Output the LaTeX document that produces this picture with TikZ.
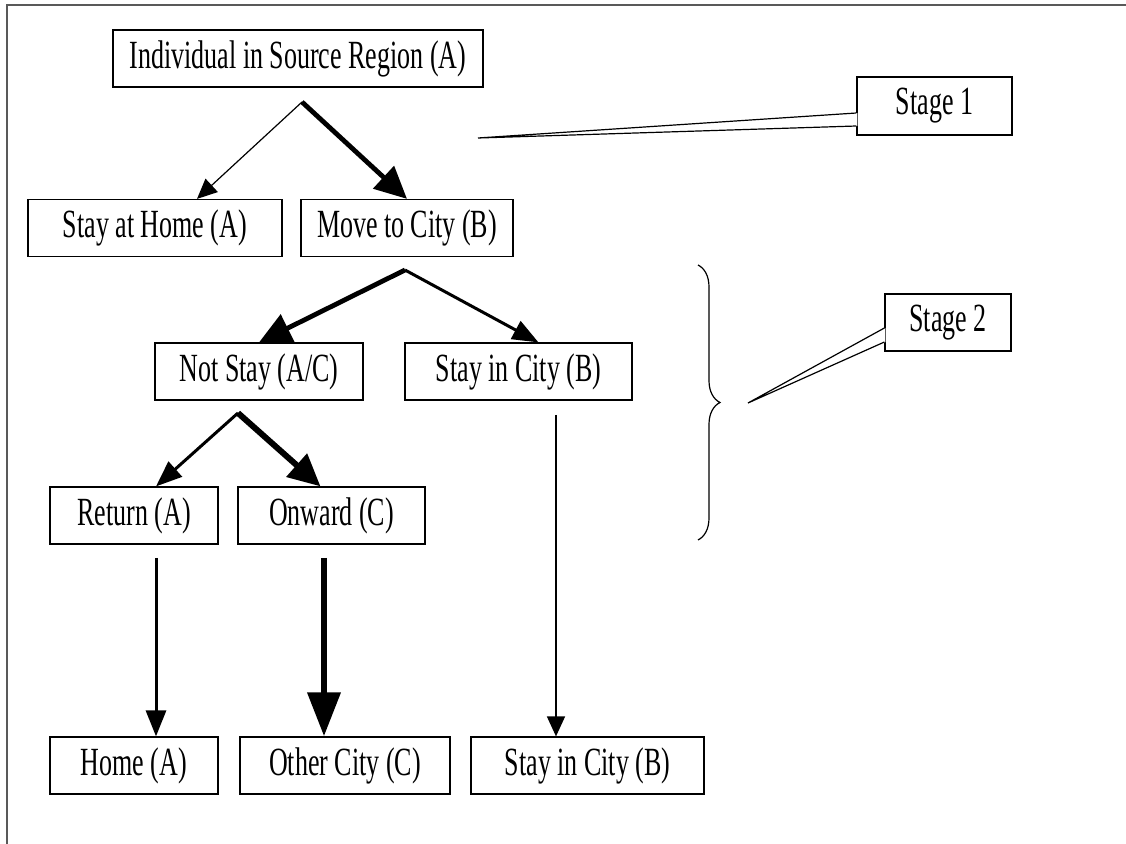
\documentclass[tikz,border=0pt]{standalone}
\usepackage{fontspec}
\setmainfont{Liberation Serif}[FakeStretch=0.65]
\usetikzlibrary{arrows.meta, calc, decorations.pathreplacing}

\tikzset{
  box/.style={draw, line width=0.6pt, minimum height=28.5pt, inner sep=0pt},
  thinarr/.style={line width=0.6pt, -{Triangle[length=10pt, width=9pt]}},
  midarr/.style={line width=1.5pt, -{Triangle[length=13pt, width=10pt]}},
  thickarr/.style={line width=2.4pt, -{Triangle[length=16pt, width=15pt]}},
  heavyarr/.style={line width=3.4pt, -{Triangle[length=22pt, width=16pt]}},
}

\begin{document}
\begin{tikzpicture}[x=0.5pt, y=-0.5pt, font=\fontsize{20pt}{23pt}\selectfont]
      \useasboundingbox (0, 0) rectangle (1126, 844);
      \draw[black!65, line width=1pt] (7, 844) -- (7, 5) -- (1126, 5);

      \node[box, minimum width=185pt] (src) at (298, 58.5) {Individual in Source Region (A)};
      \node[box, minimum width=127pt] (home) at (155, 228) {Stay at Home (A)};
      \node[box, minimum width=106pt] (move) at (407, 228) {Move to City (B)};
      \node[box, minimum width=104pt] (notstay) at (259, 371.5) {Not Stay (A/C)};
      \node[box, minimum width=113.5pt] (stayA) at (518.5, 371.5) {Stay in City (B)};
      \node[box, minimum width=84pt] (ret) at (134, 515.5) {Return (A)};
      \node[box, minimum width=93.5pt] (onward) at (331.5, 515.5) {Onward (C)};
      \node[box, minimum width=84pt] (homeA) at (134, 765.5) {Home (A)};
      \node[box, minimum width=105pt] (other) at (345, 765.5) {Other City (C)};
      \node[box, minimum width=116.5pt] (stayB) at (587.5, 765.5) {Stay in City (B)};

      \coordinate (s1) at (302, 102);
      \coordinate (s2) at (405, 270);
      \coordinate (s3) at (238, 413);
      \coordinate (s4) at (156, 558);
      \coordinate (s5) at (324, 558);
      \coordinate (s6) at (556, 415);
      \draw[thinarr] (s1) -- ($(home.north)+(42, 0)$);
      \draw[thickarr] (s1) -- (move.north);
      \draw[thickarr] (s2) -- (notstay.north);
      \draw[midarr] (s2) -- ($(stayA.north)+(20, 0)$);
      \draw[midarr] (s3) -- ($(ret.north)+(22, 0)$);
      \draw[thickarr, line width=3pt] (s3) -- ($(onward.north)+(-11, 0)$);
      \draw[midarr] (s4) -- (s4 |- homeA.north);
      \draw[heavyarr] (s5) -- (s5 |- other.north);
      \draw[thinarr, line width=0.8pt] (s6) -- (s6 |- stayB.north);

      \coordinate (br1) at (698, 265);
      \coordinate (br2) at (698, 540);
      \draw[line width=0.6pt, decorate, decoration={brace, amplitude=11pt}] (br1) -- (br2);

      \node[box, fill=white, minimum width=77.5pt, minimum height=29pt] (stage1) at (934.5, 106) {Stage 1};
      \coordinate (t1) at (478, 138);
      \fill[white] ($(stage1.west)+(1, 7)$) -- (t1) -- ($(stage1.west)+(1, 20)$) -- cycle;
      \draw[line width=0.6pt] ($(stage1.west)+(0, 7)$) -- (t1) -- ($(stage1.west)+(0, 20)$);

      \node[box, fill=white, minimum width=63pt] (stage2) at (948, 322.5) {Stage 2};
      \coordinate (t2) at (748, 403);
      \fill[white] ($(stage2.west)+(1, 5.5)$) -- (t2) -- ($(stage2.west)+(1, 19.5)$) -- cycle;
      \draw[line width=0.6pt] ($(stage2.west)+(0, 5.5)$) -- (t2) -- ($(stage2.west)+(0, 19.5)$);
    \end{tikzpicture}
\end{document}
